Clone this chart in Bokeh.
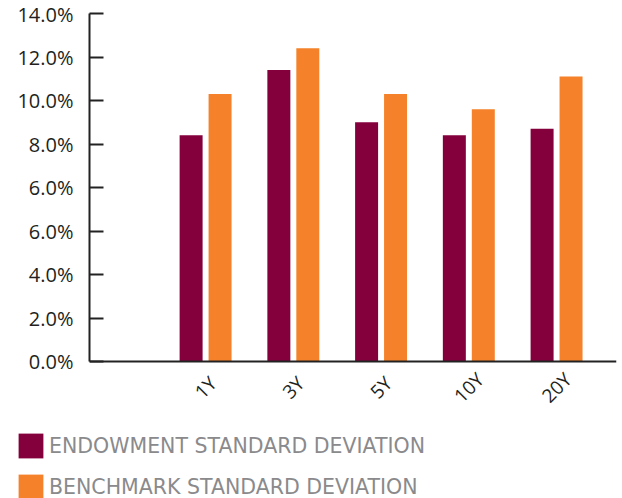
import math
from bokeh.plotting import figure
from bokeh.layouts import column, row
from bokeh.models import (ColumnDataSource, Range1d, FixedTicker, Legend, LegendItem, Span)
from bokeh.embed import file_html
from bokeh.resources import INLINE

# ---- data ----
periods = ["1Y", "3Y", "5Y", "10Y", "20Y"]
endowment_sd = [8.4, 11.4, 9.0, 8.4, 8.7]
benchmark_sd = [10.3, 12.4, 10.3, 9.6, 11.1]
y_tick_values = [-2, 0, 2, 4, 6, 8, 10, 12, 14]
y_tick_labels = ["0.0%", "2.0%", "4.0%", "6.0%", "6.0%", "8.0%", "10.0%", "12.0%", "14.0%"]
series_names = ["ENDOWMENT STANDARD DEVIATION", "BENCHMARK STANDARD DEVIATION"]
colors = ["#84003C", "#F5822A"]

TICK_FONT = "Open Sans"
LEGEND_FONT = "DejaVu Sans"
TEXT_DARK = "#231F20"

idx = list(range(1, len(periods) + 1))
offset = 0.165
bar_w = 0.262
base = y_tick_values[0]
y_top = y_tick_values[-1]

# layout geometry (pixels)
W = 622
LEFT, RIGHT, TOP = 89, 6, 13
AXIS_PX = 348            # pixel height of the value axis (base .. top)
H1 = 420                 # upper figure: bars + category labels
H2 = 498 - H1            # lower figure: legend
LABEL_DROP_PX = 26       # category label centre below the baseline
x_start, x_end = -0.323, 5.683
px_per_unit_x = (W - LEFT - RIGHT) / (x_end - x_start)
px_per_unit_y = AXIS_PX / (y_top - base)
y_start = y_top - (H1 - TOP) / px_per_unit_y

src_e = ColumnDataSource(dict(x=[i - offset for i in idx], top=endowment_sd,
                              bottom=[base] * len(idx)))
src_b = ColumnDataSource(dict(x=[i + offset for i in idx], top=benchmark_sd,
                              bottom=[base] * len(idx)))

p = figure(width=W, height=H1, output_backend="svg", toolbar_location=None,
           x_range=Range1d(x_start, x_end),
           y_range=Range1d(y_start, y_top),
           x_axis_location=None,
           min_border_left=LEFT, min_border_right=RIGHT, min_border_top=TOP,
           min_border_bottom=0)
p.outline_line_color = None
p.xgrid.visible = False
p.ygrid.visible = False

r_e = p.vbar(x="x", top="top", bottom="bottom", width=bar_w, source=src_e,
             fill_color=colors[0], line_color=None)
r_b = p.vbar(x="x", top="top", bottom="bottom", width=bar_w, source=src_b,
             fill_color=colors[1], line_color=None)

# category baseline
p.add_layout(Span(location=base, dimension="width", line_width=2,
                  line_color="#222222"))

# y axis (limited to the value range)
ya = p.yaxis[0]
ya.bounds = (base, y_top)
ya.ticker = FixedTicker(ticks=y_tick_values)
ya.major_label_overrides = {v: l for v, l in zip(y_tick_values, y_tick_labels)}
ya.major_tick_in = 14
ya.major_tick_out = 0
ya.minor_tick_line_color = None
ya.major_tick_line_width = 2
ya.axis_line_width = 2
ya.axis_line_color = "#222222"
ya.major_tick_line_color = "#222222"
ya.major_label_standoff = 16
ya.major_label_text_font = TICK_FONT
ya.major_label_text_font_size = "20px"
ya.major_label_text_color = TEXT_DARK

# category labels, rotated 45 degrees, centred under each group
lbl_src = ColumnDataSource(dict(x=idx, y=[base - LABEL_DROP_PX / px_per_unit_y] * len(idx),
                                text=periods))
p.text(x="x", y="y", text="text", source=lbl_src, angle=math.pi / 4,
       text_align="center", text_baseline="middle",
       text_font={"value": TICK_FONT}, text_font_size="19px", text_color=TEXT_DARK)

# ---- lower panel: legend ----
p2 = figure(width=W, height=H2, output_backend="svg", toolbar_location=None,
            x_range=Range1d(0, 1), y_range=Range1d(0, 1),
            x_axis_location=None, y_axis_location=None,
            min_border_left=0, min_border_right=0, min_border_top=0,
            min_border_bottom=0)
p2.outline_line_color = None
p2.xgrid.visible = False
p2.ygrid.visible = False

# legend swatches: hidden copies of the bar series supply the colours
le = p2.vbar(x="x", top="top", bottom="bottom", width=bar_w, source=src_e,
             fill_color=colors[0], line_color=None, visible=False)
lb = p2.vbar(x="x", top="top", bottom="bottom", width=bar_w, source=src_b,
             fill_color=colors[1], line_color=None, visible=False)
legend = Legend(items=[LegendItem(label=series_names[0], renderers=[le]),
                       LegendItem(label=series_names[1], renderers=[lb])],
                location=(15, -4), orientation="vertical")
legend.glyph_width = 31
legend.glyph_height = 31
legend.spacing = 10
legend.padding = 0
legend.margin = 0
legend.border_line_color = None
legend.background_fill_alpha = 0
legend.inactive_fill_alpha = 0
legend.label_standoff = 3
legend.label_text_font = LEGEND_FONT
legend.label_text_font_size = "20.5px"
legend.label_text_color = "#8A8A8C"
p2.add_layout(legend, "center")

layout = column(p, row(p2, spacing=0), spacing=0)
open("out.html", "w").write(file_html(layout, INLINE))
